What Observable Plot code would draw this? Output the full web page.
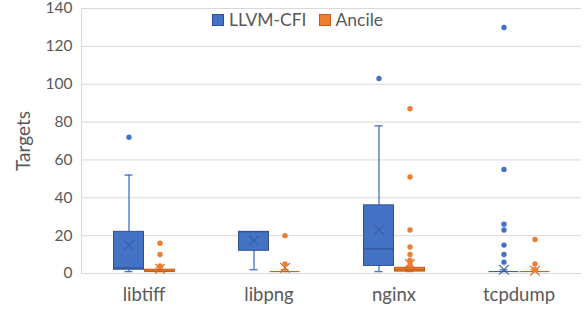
<!DOCTYPE html>
<html>
<head>
<meta charset="utf-8">
<script src="https://cdn.jsdelivr.net/npm/d3@7"></script>
<script src="https://cdn.jsdelivr.net/npm/@observablehq/plot@0.6"></script>
<style>
  html, body { margin: 0; padding: 0; background: #fff; }
  #wrap { position: relative; width: 584px; height: 312px; font-family: Lato, "Open Sans", sans-serif; }
  #chart svg { overflow: visible; }
  #legend { position: absolute; top: 9px; left: 212px; display: flex; align-items: center; font-size: 17.5px; color: #595959; white-space: nowrap; }
  #legend .sw { display: inline-block; width: 12px; height: 12px; margin-right: 5px; }
  #legend .item { display: flex; align-items: center; margin-right: 12px; }
  #ylabel { position: absolute; left: 22px; top: 141px; transform: translate(-50%, -50%) rotate(-90deg); font-size: 19px; color: #595959; white-space: nowrap; }
</style>
</head>
<body>
<div id="wrap">
  <div id="chart"></div>
  <div id="legend"></div>
  <div id="ylabel">Targets</div>
</div>
<script>
const categories = ["libtiff", "libpng", "nginx", "tcpdump"];
const series = ["LLVM-CFI", "Ancile"];
const colors = ["#4472C4", "#ED7D31"];
const boxStrokes = ["#2F528F", "#C55A11"];
const meanStrokes = ["#3B5EA6", "#D0651F"];

const llvmMin    = [1, 2, 1, 1];
const llvmQ1     = [2, 12, 4, 1];
const llvmMedian = [3, 22, 13, 1];
const llvmQ3     = [22, 22, 36, 1];
const llvmMax    = [52, 22, 78, 2];
const llvmMean   = [15, 17.5, 23, 2];
const llvmOutliers = [[72], [], [103], [130, 55, 26, 23, 15, 10, 6]];

const ancileMin    = [1, 1, 1, 1];
const ancileQ1     = [1, 1, 1, 1];
const ancileMedian = [1, 1, 2, 1];
const ancileQ3     = [2, 1, 3, 1];
const ancileMax    = [3, 2, 4, 2];
const ancileMean   = [2.5, 3, 5, 1.5];
const ancileOutliers = [[16, 10, 4], [20, 5], [87, 51, 23, 14, 10, 7, 5], [18, 5, 2]];

const yTicks = [0, 20, 40, 60, 80, 100, 120, 140];

const stats = [
  {min: llvmMin, q1: llvmQ1, med: llvmMedian, q3: llvmQ3, max: llvmMax, mean: llvmMean, out: llvmOutliers},
  {min: ancileMin, q1: ancileQ1, med: ancileMedian, q3: ancileQ3, max: ancileMax, mean: ancileMean, out: ancileOutliers}
];

const boxes = [];
const outliers = [];
categories.forEach((c, i) => {
  series.forEach((s, j) => {
    const st = stats[j];
    boxes.push({cat: c, series: s, min: st.min[i], q1: st.q1[i], med: st.med[i], q3: st.q3[i], max: st.max[i], mean: st.mean[i]});
    st.out[i].forEach(v => outliers.push({cat: c, series: s, value: v}));
  });
});

const colorOf = d => colors[series.indexOf(d.series)];
const boxStrokeOf = d => boxStrokes[series.indexOf(d.series)];
const meanStrokeOf = d => meanStrokes[series.indexOf(d.series)];

const chart = Plot.plot({
  width: 584,
  height: 312,
  marginLeft: 80,
  marginRight: 3,
  marginTop: 8,
  marginBottom: 39,
  style: {fontFamily: "Lato, 'Open Sans', sans-serif", fontSize: "16px", color: "#595959", background: "#fff", overflow: "visible"},
  fx: {domain: categories, padding: 0},
  x: {domain: series, paddingInner: 0, paddingOuter: 1, axis: null},
  y: {domain: [0, 140]},
  marks: [
    Plot.gridY(yTicks, {stroke: "#d9d9d9", strokeOpacity: 1}),
    Plot.frame({anchor: "left", stroke: "#d9d9d9", facetAnchor: "left"}),
    Plot.axisY(yTicks, {tickSize: 0, tickPadding: 9, fontSize: 15.5, label: null, fill: "#595959"}),
    Plot.axisFx({anchor: "bottom", tickSize: 0, tickPadding: 14, fontSize: 18.5, label: null, fill: "#595959"}),
    Plot.ruleX(boxes, {fx: "cat", x: "series", y1: "min", y2: "max", stroke: colorOf, strokeWidth: 1.3}),
    Plot.tickY(boxes, {fx: "cat", x: "series", y: "max", stroke: colorOf, strokeWidth: 1.3, insetLeft: 11.5, insetRight: 11.5}),
    Plot.tickY(boxes, {fx: "cat", x: "series", y: "min", stroke: colorOf, strokeWidth: 1.3, insetLeft: 11.5, insetRight: 11.5}),
    Plot.barY(boxes, {fx: "cat", x: "series", y1: "q1", y2: "q3", fill: colorOf, stroke: boxStrokeOf, strokeWidth: 1, insetLeft: 0.5, insetRight: 0.5}),
    Plot.tickY(boxes, {fx: "cat", x: "series", y: "med", stroke: boxStrokeOf, strokeWidth: 1, insetLeft: 0.5, insetRight: 0.5}),
    Plot.dot(boxes, {fx: "cat", x: "series", y: "mean", symbol: "times", r: 4.5, stroke: meanStrokeOf, strokeWidth: 1.1}),
    Plot.dot(outliers, {fx: "cat", x: "series", y: "value", r: 2.7, fill: colorOf, stroke: null})
  ]
});
document.getElementById("chart").appendChild(chart);

const legend = document.getElementById("legend");
series.forEach((s, j) => {
  const item = document.createElement("div");
  item.className = "item";
  const sw = document.createElement("span");
  sw.className = "sw";
  sw.style.background = colors[j];
  sw.style.border = "1px solid " + boxStrokes[j];
  sw.style.boxSizing = "border-box";
  const t = document.createElement("span");
  t.textContent = s;
  item.appendChild(sw);
  item.appendChild(t);
  legend.appendChild(item);
});
</script>
</body>
</html>
